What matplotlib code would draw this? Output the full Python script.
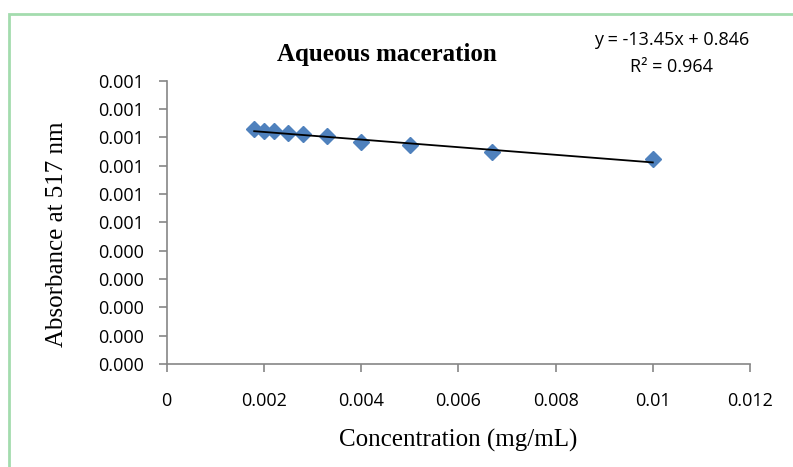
import matplotlib
matplotlib.use("Agg")
import matplotlib.pyplot as plt
import numpy as np
from matplotlib.patches import Rectangle
from matplotlib.ticker import FuncFormatter

# data
conc = [0.0018, 0.002, 0.0022, 0.0025, 0.0028, 0.0033, 0.004, 0.005, 0.0067, 0.01]
absorb = [0.000828, 0.000823, 0.000823, 0.000816, 0.000812, 0.000806,
          0.000785, 0.000773, 0.000748, 0.000723]
slope = -13.45
intercept = 0.846
r2 = 0.964

x_ticks = [0, 0.002, 0.004, 0.006, 0.008, 0.01, 0.012]
x_labels = ["0", "0.002", "0.004", "0.006", "0.008", "0.01", "0.012"]
y_ticks = np.arange(0, 11) * 0.0001

fig = plt.figure(figsize=(7.93, 4.67), dpi=100)
ax = fig.add_axes([0.2102, 0.2206, 0.7356, 0.6066])

ax.plot(conc, absorb, linestyle="none", marker="D", markersize=8,
        color="#4F81BD", zorder=3)
# linear trendline (Excel style), line in axis units
xl = np.array([min(conc), max(conc)])
ax.plot(xl, (slope * xl + intercept) * 1e-3, color="black", lw=1.3, zorder=4)

ax.set_xlim(0, 0.012)
ax.set_ylim(0, 0.001)
ax.set_xticks(x_ticks)
ax.set_xticklabels(x_labels)
ax.set_yticks(y_ticks)
ax.yaxis.set_major_formatter(FuncFormatter(lambda v, p: "%.3f" % v))

for s in ["top", "right"]:
    ax.spines[s].set_visible(False)
for s in ["left", "bottom"]:
    ax.spines[s].set_color("#868686")
    ax.spines[s].set_linewidth(1.2)
ax.tick_params(axis="both", direction="out", length=6, width=1.2, color="#868686",
               labelsize=13, labelcolor="black")
ax.tick_params(axis="y", pad=10)
ax.tick_params(axis="x", pad=14)
for lab in ax.get_xticklabels() + ax.get_yticklabels():
    lab.set_family("Open Sans")

ax.set_xlabel("Concentration (mg/mL)", family="Liberation Serif", fontsize=18, labelpad=14)
fig.text(57 / 793, 1 - 234 / 467, "Absorbance at 517 nm", family="Liberation Serif",
         fontsize=18, rotation=90, ha="center", va="center")

fig.text(387 / 793, 1 - 55 / 467, "Aqueous maceration", family="Liberation Serif",
         fontsize=18, fontweight="bold", ha="center", va="center")
fig.text(672 / 793, 1 - 40 / 467, "y = -13.45x + 0.846", family="Open Sans",
         fontsize=13, ha="center", va="center")
fig.text(672 / 793, 1 - 67 / 467, "R² = %.3f" % r2, family="Open Sans",
         fontsize=13, ha="center", va="center")

# green chart border
fig.patches.append(Rectangle((9 / 793, -0.05), 1.1, 1 - 14 / 467 + 0.05,
                             transform=fig.transFigure, fill=False,
                             edgecolor="#A3DCAE", lw=2.0))

fig.savefig("out.png", dpi=100)
